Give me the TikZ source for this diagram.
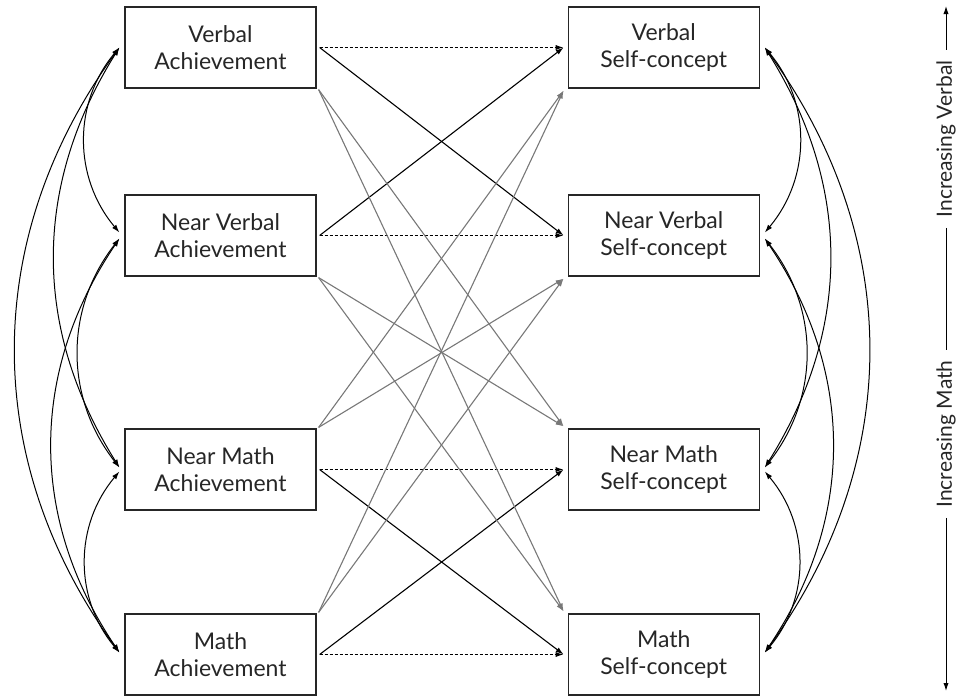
\documentclass[tikz,border=0pt]{standalone}
\usepackage{fontspec}
\setmainfont{Lato}
\usepackage{xcolor}
\usetikzlibrary{arrows.meta, positioning}

\definecolor{linkgray}{RGB}{120,120,120}
\tikzset{
  box/.style={draw=black!85, line width=0.6pt, minimum width=95.5pt, minimum height=40.5pt,
    inner sep=0pt, align=center, text=black!85, font=\fontsize{11.5}{13.5}\selectfont},
  tip/.tip={Latex[length=4pt, width=2.6pt]},
  link/.style={-tip, line width=0.55pt},
  greylink/.style={-tip, line width=0.55pt, linkgray},
  dotlink/.style={-tip, line width=0.6pt, dash pattern=on 1.5pt off 1pt},
  corr/.style={tip-tip, line width=0.5pt},
  axislabel/.style={rotate=90, fill=white, inner xsep=5pt, text=black!85, font=\fontsize{10.5}{12.5}\selectfont}
}

\begin{document}
\begin{tikzpicture}[x=0.5pt, y=-0.5pt]
      \useasboundingbox (0,0) rectangle (962,696);

      % achievement
      \node[box] (va) at (220.5,47.5) {Verbal\\Achievement};
      \node[box] (nva) at (220.5,235.5) {Near Verbal\\Achievement};
      \node[box] (nma) at (220.5,469.5) {Near Math\\Achievement};
      \node[box] (ma) at (220.5,654.5) {Math\\Achievement};

      % self-concept
      \node[box, right=125.5pt of va] (vsc) {Verbal\\Self-concept};
      \node[box, right=125.5pt of nva] (nvsc) {Near Verbal\\Self-concept};
      \node[box, right=125.5pt of nma] (nmsc) {Near Math\\Self-concept};
      \node[box, right=125.5pt of ma] (msc) {Math\\Self-concept};

      % same domain
      \draw[dotlink] ([xshift=1.5pt]va.east) -- ([xshift=-2pt]vsc.west);
      \draw[dotlink] ([xshift=1.5pt]nva.east) -- ([xshift=-2pt]nvsc.west);
      \draw[dotlink] ([xshift=1.5pt]nma.east) -- ([xshift=-2pt]nmsc.west);
      \draw[dotlink] ([xshift=1.5pt]ma.east) -- ([xshift=-2pt]msc.west);

      % near domain
      \draw[link] ([xshift=1.5pt]va.east) -- ([xshift=-2pt]nvsc.west);
      \draw[link] ([xshift=1.5pt]nva.east) -- ([xshift=-2pt]vsc.west);
      \draw[link] ([xshift=1.5pt]nma.east) -- ([xshift=-2pt]msc.west);
      \draw[link] ([xshift=1.5pt]ma.east) -- ([xshift=-2pt]nmsc.west);

      % far domain
      \draw[greylink] ([shift={(1pt,-0.5pt)}]va.south east) -- ([shift={(-2pt,1pt)}]nmsc.north west);
      \draw[greylink] ([shift={(1pt,-0.5pt)}]va.south east) -- ([shift={(-2pt,1pt)}]msc.north west);
      \draw[greylink] ([shift={(1pt,-0.5pt)}]nva.south east) -- ([shift={(-2pt,1pt)}]nmsc.north west);
      \draw[greylink] ([shift={(1pt,-0.5pt)}]nva.south east) -- ([shift={(-2pt,1pt)}]msc.north west);
      \draw[greylink] ([shift={(1pt,0.5pt)}]nma.north east) -- ([shift={(-2pt,-1pt)}]vsc.south west);
      \draw[greylink] ([shift={(1pt,0.5pt)}]nma.north east) -- ([shift={(-2pt,-1pt)}]nvsc.south west);
      \draw[greylink] ([shift={(1pt,0.5pt)}]ma.north east) -- ([shift={(-2pt,-1pt)}]vsc.south west);
      \draw[greylink] ([shift={(1pt,0.5pt)}]ma.north east) -- ([shift={(-2pt,-1pt)}]nvsc.south west);

      % correlations, left
      \draw[corr] ([xshift=-2.5pt]va.west) to[bend right=40] ([shift={(-2.5pt,1.5pt)}]nva.west);
      \draw[corr] ([xshift=-2.5pt]va.west) to[bend right=32] ([shift={(-2.5pt,1pt)}]nma.west);
      \draw[corr] ([xshift=-2.5pt]va.west) to[bend right=36] ([shift={(-2.5pt,1pt)}]ma.west);
      \draw[corr] ([shift={(-2.5pt,-1.5pt)}]nva.west) to[bend right=38] ([shift={(-2.5pt,1pt)}]nma.west);
      \draw[corr] ([shift={(-2.5pt,-1.5pt)}]nva.west) to[bend right=34] ([shift={(-2.5pt,1pt)}]ma.west);
      \draw[corr] ([shift={(-2.5pt,-1pt)}]nma.west) to[bend right=40] ([shift={(-2.5pt,1pt)}]ma.west);

      % correlations, right
      \draw[corr] ([xshift=2.5pt]vsc.east) to[bend left=40] ([shift={(2.5pt,1.5pt)}]nvsc.east);
      \draw[corr] ([xshift=2.5pt]vsc.east) to[bend left=32] ([shift={(2.5pt,1pt)}]nmsc.east);
      \draw[corr] ([xshift=2.5pt]vsc.east) to[bend left=36] ([shift={(2.5pt,1pt)}]msc.east);
      \draw[corr] ([shift={(2.5pt,-1.5pt)}]nvsc.east) to[bend left=38] ([shift={(2.5pt,1pt)}]nmsc.east);
      \draw[corr] ([shift={(2.5pt,-1.5pt)}]nvsc.east) to[bend left=34] ([shift={(2.5pt,1pt)}]msc.east);
      \draw[corr] ([shift={(2.5pt,-1pt)}]nmsc.east) to[bend left=40] ([shift={(2.5pt,1pt)}]msc.east);

      % axis
      \coordinate (top) at (946,6);
      \coordinate (bottom) at (946,691);
      \node[axislabel] (verbal) at (946,139) {Increasing Verbal};
      \node[axislabel] (math) at (946,434) {Increasing Math};
      \draw[tip-, line width=0.5pt] (top) -- (verbal);
      \draw[line width=0.5pt] (verbal) -- (math);
      \draw[-tip, line width=0.5pt] (math) -- (bottom);
\end{tikzpicture}
\end{document}
